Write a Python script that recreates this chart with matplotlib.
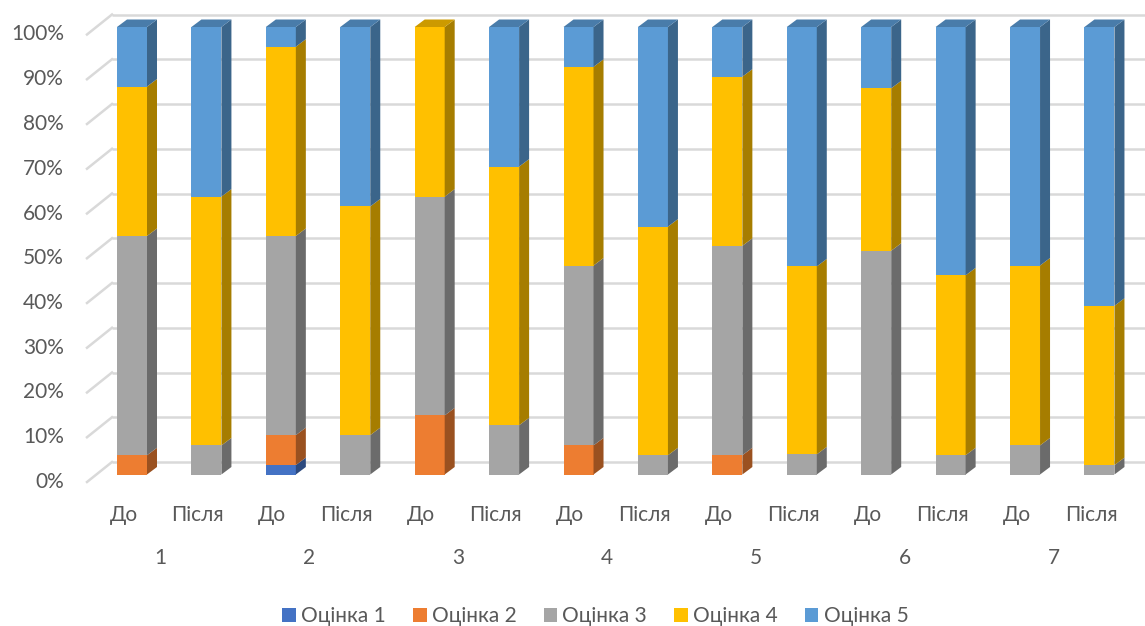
import matplotlib
matplotlib.use('Agg')
import matplotlib.pyplot as plt
from matplotlib.patches import Polygon, Patch
import matplotlib.colors as mcolors

groups = ['1', '2', '3', '4', '5', '6', '7']
stages = ['До', 'Після']
series_names = ['Оцінка 1', 'Оцінка 2', 'Оцінка 3', 'Оцінка 4', 'Оцінка 5']

# percentages, bars in order: 1 До, 1 Після, 2 До, 2 Після, ...
grade1 = [0, 0, 2.1, 0, 0, 0, 0, 0, 0, 0, 0, 0, 0, 0]
grade2 = [4.3, 0, 6.7, 0, 13.2, 0, 6.5, 0, 4.3, 0, 0, 0, 0, 0]
grade3 = [49.0, 6.5, 44.5, 8.8, 48.9, 11.0, 40.2, 4.3, 46.8, 4.5, 50.0, 4.3, 6.5, 2.1]
grade4 = [33.4, 55.6, 42.3, 51.1, 37.9, 57.8, 44.4, 51.1, 37.8, 42.0, 36.3, 40.2, 40.2, 35.6]
grade5 = [13.3, 37.9, 4.4, 40.1, 0, 31.2, 8.9, 44.6, 11.1, 53.5, 13.7, 55.5, 53.3, 62.3]

colors = ['#4472C4', '#ED7D31', '#A5A5A5', '#FFC000', '#5B9BD5']
text_color = '#595959'
grid_color = '#D9D9D9'
fonts = ['Lato', 'DejaVu Sans']


def shade(c, f):
    r, g, b = mcolors.to_rgb(c)
    return (r * f, g * f, b * f)


W, H = 1145, 626
fig = plt.figure(figsize=(W / 100, H / 100), dpi=100)
ax = fig.add_axes([0, 0, 1, 1])

# pixel geometry of the oblique "3D" plot
px_x = 74.42   # px per bar slot
x0_px = 132    # centre of first bar front
px_y = 4.475   # px per percent
y0_px = 626 - 474.5
ax.set_xlim(-x0_px / px_x, (W - x0_px) / px_x)
ax.set_ylim(-y0_px / px_y, (H - y0_px) / px_y)
ax.axis('off')

bw = 30 / px_x
dx, dy = 10 / px_x, 7.5 / px_y          # bar depth
fx, fy = -45 / px_x, -7.5 / px_y        # front floor left edge, rel. to bar front
bx, by = -20 / px_x, 12.5 / px_y        # back wall left edge
xr = (W - x0_px) / px_x

# gridlines on back wall + diagonal on left side wall
for p in range(0, 101, 10):
    ax.plot([bx, xr], [p + by, p + by], color=grid_color, lw=1.8, zorder=1,
            solid_capstyle='butt')
    ax.plot([fx, bx], [p + fy, p + by], color=grid_color, lw=1.8, zorder=1)
    ax.text(fx - 23 / px_x, p + fy, f'{p}%', ha='right', va='center',
            fontsize=15, color=text_color, family=fonts)

series = [grade1, grade2, grade3, grade4, grade5]
n = len(grade1)
for i in range(n):
    bottom = 0
    top_color = None
    for k, vals in enumerate(series):
        v = vals[i]
        if v <= 0:
            continue
        ax.bar(i, v, width=bw, bottom=bottom, color=colors[k], zorder=3,
               edgecolor='none')
        xs = i + bw / 2
        side = Polygon([(xs, bottom), (xs + dx, bottom + dy),
                        (xs + dx, bottom + v + dy), (xs, bottom + v)],
                       closed=True, facecolor=shade(colors[k], 0.65),
                       edgecolor='none', zorder=3)
        ax.add_patch(side)
        bottom += v
        top_color = colors[k]
    top = Polygon([(i - bw / 2, bottom), (i - bw / 2 + dx, bottom + dy),
                   (i + bw / 2 + dx, bottom + dy), (i + bw / 2, bottom)],
                  closed=True, facecolor=shade(top_color, 0.8),
                  edgecolor='none', zorder=3)
    ax.add_patch(top)

# category labels
lab_dx = -8.5 / px_x
for i in range(n):
    ax.text(i + lab_dx, (474.5 - 515) / px_y, stages[i % 2], ha='center',
            va='center', fontsize=15, color=text_color, family=fonts)
for g, name in enumerate(groups):
    ax.text(2 * g + 0.5 + lab_dx, (474.5 - 558) / px_y, name, ha='center',
            va='center', fontsize=15, color=text_color, family=fonts)

handles = [Patch(facecolor=c, edgecolor='none') for c in colors]
leg = fig.legend(handles, series_names, loc='center', ncol=5,
                 bbox_to_anchor=(0.52, 0.016), frameon=False,
                 handlelength=0.65, handleheight=0.65, handletextpad=0.25,
                 columnspacing=1.3, borderpad=0,
                 prop={'family': fonts, 'size': 15})
for t in leg.get_texts():
    t.set_color(text_color)

fig.savefig('out.png', dpi=100)
